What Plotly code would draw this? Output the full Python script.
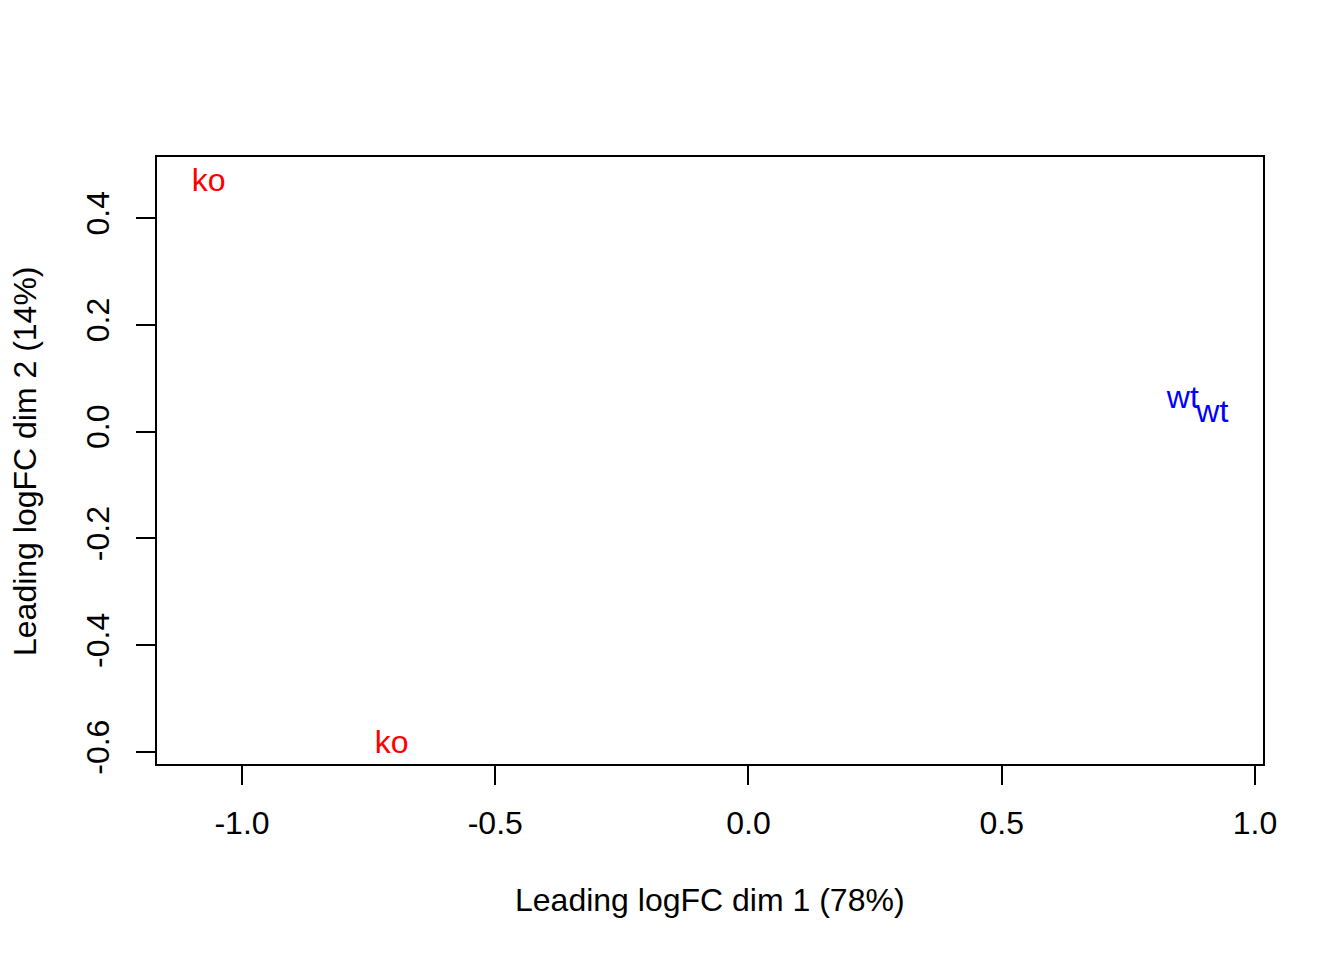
import plotly.graph_objects as go

# Data (MDS coordinates)
labels = ["ko", "ko", "wt", "wt"]
dim1 = [-1.0657, -0.7046, 0.8575, 0.9157]
dim2 = [0.465, -0.5865, 0.059, 0.0325]
colors = ["#FF0000", "#FF0000", "#0000FF", "#0000FF"]

x_ticks = [-1.0, -0.5, 0.0, 0.5, 1.0]
x_ticklabels = ["-1.0", "-0.5", "0.0", "0.5", "1.0"]
y_ticks = [-0.6, -0.4, -0.2, 0.0, 0.2, 0.4]
y_ticklabels = ["-0.6", "-0.4", "-0.2", "0.0", "0.2", "0.4"]

FONT = "Liberation Sans, Arial, Helvetica, sans-serif"
FS = 32

fig = go.Figure()
fig.add_trace(go.Scatter(
    x=dim1, y=dim2, mode="text", text=labels,
    textposition="middle center",
    textfont=dict(color=colors, size=FS, family=FONT),
    hoverinfo="skip", showlegend=False,
))

axis_common = dict(
    showgrid=False, zeroline=False,
    showline=True, mirror=True, linecolor="black", linewidth=2,
    ticks="outside", ticklen=19, tickwidth=2, tickcolor="black",
    tickfont=dict(size=FS, family=FONT, color="black"),
)

fig.update_layout(
    width=1344, height=960,
    margin=dict(l=149, r=89, t=149, b=204),
    paper_bgcolor="white", plot_bgcolor="white",
    font=dict(family=FONT, size=FS, color="black"),
    xaxis=dict(range=[-1.1678, 1.0158], tickvals=x_ticks, ticktext=x_ticklabels,
               ticklabelstandoff=11, **axis_common),
    yaxis=dict(range=[-0.6225, 0.5142], tickvals=y_ticks, ticktext=y_ticklabels,
               tickangle=-90, ticklabelstandoff=14, **axis_common),
    annotations=[
        dict(text="Leading logFC dim 1 (78%)", xref="paper", yref="paper",
             x=(710 - 157) / 1106, y=(764 - 900) / 607, xanchor="center", yanchor="middle",
             showarrow=False, font=dict(size=FS, family=FONT, color="black")),
        dict(text="Leading logFC dim 2 (14%)", xref="paper", yref="paper",
             x=(25 - 157) / 1106, y=(764 - 461) / 607, xanchor="center", yanchor="middle",
             textangle=-90, showarrow=False, font=dict(size=FS, family=FONT, color="black")),
    ],
)

fig.write_html("out.html")
